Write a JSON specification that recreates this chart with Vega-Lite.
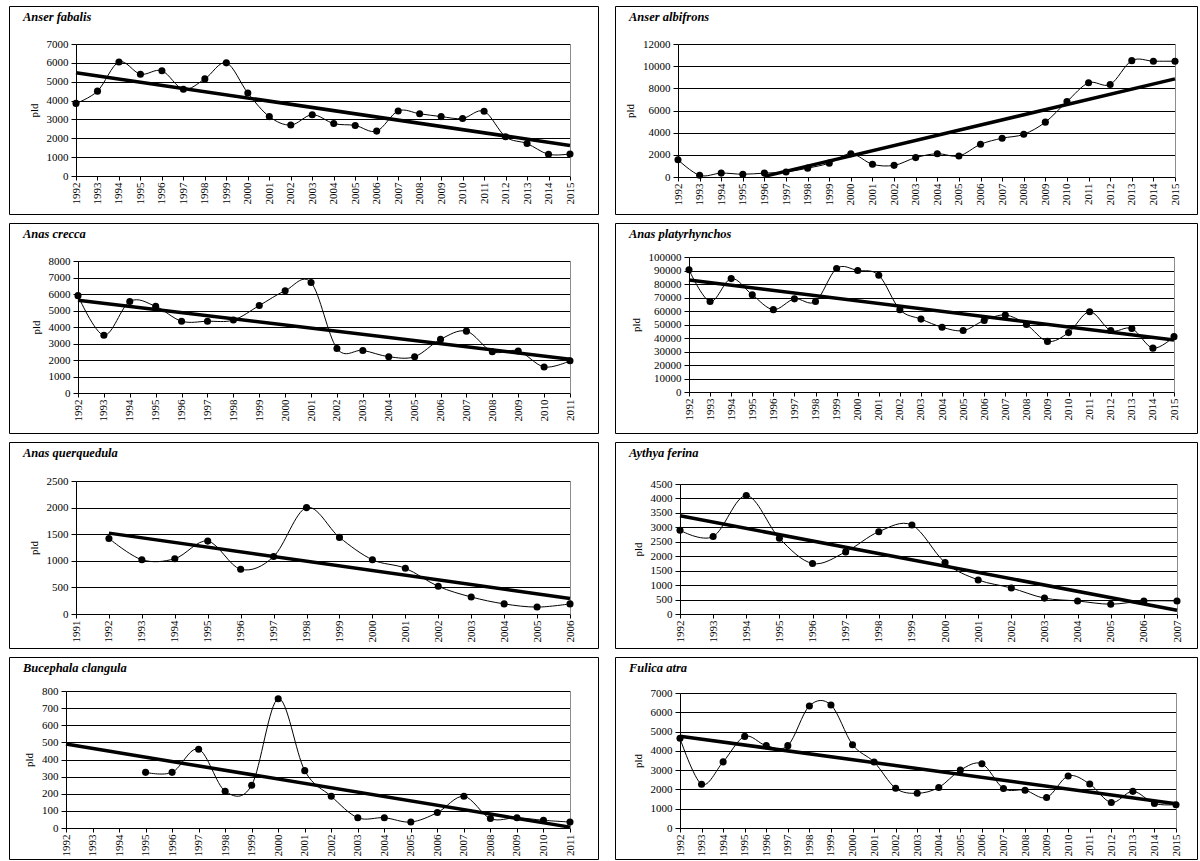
{
  "$schema": "https://vega.github.io/schema/vega-lite/v6.json",
  "background": "white",
  "padding": {"left": 8, "top": 5, "right": 0, "bottom": 0},
  "bounds": "flush",
  "align": "each",
  "columns": 2,
  "spacing": {"row": 9, "column": 17},
  "config": {
    "font": "Liberation Serif",
    "view": {"stroke": "black", "strokeWidth": 1},
    "axis": {"labelFont": "Liberation Serif", "labelFontSize": 11, "labelColor": "black", "titleFont": "Liberation Serif", "titleFontSize": 11, "titleFontWeight": "normal", "titleColor": "black", "domainColor": "black", "tickColor": "black", "gridColor": "black", "gridOpacity": 1, "domainWidth": 1, "tickWidth": 1, "format": "d"},
    "axisX": {"labelAngle": 270, "grid": false, "tickSize": 4, "labelPadding": 2, "title": null},
    "axisY": {"grid": true, "tickSize": 5, "labelPadding": 3, "titlePadding": 7},
    "title": {"anchor": "start", "frame": "group", "offset": -17, "baseline": "middle", "dx": 14, "font": "Liberation Serif", "fontSize": 12.5, "fontStyle": "italic", "fontWeight": "bold", "color": "black"}
  },
  "datasets": {
    "counts": [
      {"sp": "Anser fabalis", "year": 1992, "pld": 3850}, {"sp": "Anser fabalis", "year": 1993, "pld": 4500}, {"sp": "Anser fabalis", "year": 1994, "pld": 6050}, {"sp": "Anser fabalis", "year": 1995, "pld": 5400}, {"sp": "Anser fabalis", "year": 1996, "pld": 5580}, {"sp": "Anser fabalis", "year": 1997, "pld": 4600}, {"sp": "Anser fabalis", "year": 1998, "pld": 5150}, {"sp": "Anser fabalis", "year": 1999, "pld": 6000}, {"sp": "Anser fabalis", "year": 2000, "pld": 4400}, {"sp": "Anser fabalis", "year": 2001, "pld": 3150}, {"sp": "Anser fabalis", "year": 2002, "pld": 2700}, {"sp": "Anser fabalis", "year": 2003, "pld": 3250}, {"sp": "Anser fabalis", "year": 2004, "pld": 2780}, {"sp": "Anser fabalis", "year": 2005, "pld": 2680}, {"sp": "Anser fabalis", "year": 2006, "pld": 2380}, {"sp": "Anser fabalis", "year": 2007, "pld": 3450}, {"sp": "Anser fabalis", "year": 2008, "pld": 3300}, {"sp": "Anser fabalis", "year": 2009, "pld": 3150}, {"sp": "Anser fabalis", "year": 2010, "pld": 3050}, {"sp": "Anser fabalis", "year": 2011, "pld": 3430}, {"sp": "Anser fabalis", "year": 2012, "pld": 2080}, {"sp": "Anser fabalis", "year": 2013, "pld": 1720}, {"sp": "Anser fabalis", "year": 2014, "pld": 1150}, {"sp": "Anser fabalis", "year": 2015, "pld": 1170},
      {"sp": "Anser albifrons", "year": 1992, "pld": 1550}, {"sp": "Anser albifrons", "year": 1993, "pld": 150}, {"sp": "Anser albifrons", "year": 1994, "pld": 350}, {"sp": "Anser albifrons", "year": 1995, "pld": 250}, {"sp": "Anser albifrons", "year": 1996, "pld": 350}, {"sp": "Anser albifrons", "year": 1997, "pld": 450}, {"sp": "Anser albifrons", "year": 1998, "pld": 800}, {"sp": "Anser albifrons", "year": 1999, "pld": 1250}, {"sp": "Anser albifrons", "year": 2000, "pld": 2100}, {"sp": "Anser albifrons", "year": 2001, "pld": 1150}, {"sp": "Anser albifrons", "year": 2002, "pld": 1050}, {"sp": "Anser albifrons", "year": 2003, "pld": 1750}, {"sp": "Anser albifrons", "year": 2004, "pld": 2100}, {"sp": "Anser albifrons", "year": 2005, "pld": 1900}, {"sp": "Anser albifrons", "year": 2006, "pld": 2950}, {"sp": "Anser albifrons", "year": 2007, "pld": 3500}, {"sp": "Anser albifrons", "year": 2008, "pld": 3850}, {"sp": "Anser albifrons", "year": 2009, "pld": 4950}, {"sp": "Anser albifrons", "year": 2010, "pld": 6800}, {"sp": "Anser albifrons", "year": 2011, "pld": 8500}, {"sp": "Anser albifrons", "year": 2012, "pld": 8350}, {"sp": "Anser albifrons", "year": 2013, "pld": 10500}, {"sp": "Anser albifrons", "year": 2014, "pld": 10450}, {"sp": "Anser albifrons", "year": 2015, "pld": 10450},
      {"sp": "Anas crecca", "year": 1992, "pld": 5900}, {"sp": "Anas crecca", "year": 1993, "pld": 3500}, {"sp": "Anas crecca", "year": 1994, "pld": 5550}, {"sp": "Anas crecca", "year": 1995, "pld": 5250}, {"sp": "Anas crecca", "year": 1996, "pld": 4350}, {"sp": "Anas crecca", "year": 1997, "pld": 4350}, {"sp": "Anas crecca", "year": 1998, "pld": 4420}, {"sp": "Anas crecca", "year": 1999, "pld": 5300}, {"sp": "Anas crecca", "year": 2000, "pld": 6200}, {"sp": "Anas crecca", "year": 2001, "pld": 6700}, {"sp": "Anas crecca", "year": 2002, "pld": 2700}, {"sp": "Anas crecca", "year": 2003, "pld": 2580}, {"sp": "Anas crecca", "year": 2004, "pld": 2200}, {"sp": "Anas crecca", "year": 2005, "pld": 2200}, {"sp": "Anas crecca", "year": 2006, "pld": 3250}, {"sp": "Anas crecca", "year": 2007, "pld": 3750}, {"sp": "Anas crecca", "year": 2008, "pld": 2500}, {"sp": "Anas crecca", "year": 2009, "pld": 2550}, {"sp": "Anas crecca", "year": 2010, "pld": 1580}, {"sp": "Anas crecca", "year": 2011, "pld": 1950},
      {"sp": "Anas platyrhynchos", "year": 1992, "pld": 90500}, {"sp": "Anas platyrhynchos", "year": 1993, "pld": 67000}, {"sp": "Anas platyrhynchos", "year": 1994, "pld": 84000}, {"sp": "Anas platyrhynchos", "year": 1995, "pld": 72000}, {"sp": "Anas platyrhynchos", "year": 1996, "pld": 61000}, {"sp": "Anas platyrhynchos", "year": 1997, "pld": 69000}, {"sp": "Anas platyrhynchos", "year": 1998, "pld": 67000}, {"sp": "Anas platyrhynchos", "year": 1999, "pld": 91500}, {"sp": "Anas platyrhynchos", "year": 2000, "pld": 90000}, {"sp": "Anas platyrhynchos", "year": 2001, "pld": 86500}, {"sp": "Anas platyrhynchos", "year": 2002, "pld": 61000}, {"sp": "Anas platyrhynchos", "year": 2003, "pld": 54000}, {"sp": "Anas platyrhynchos", "year": 2004, "pld": 48000}, {"sp": "Anas platyrhynchos", "year": 2005, "pld": 45500}, {"sp": "Anas platyrhynchos", "year": 2006, "pld": 53000}, {"sp": "Anas platyrhynchos", "year": 2007, "pld": 57000}, {"sp": "Anas platyrhynchos", "year": 2008, "pld": 50000}, {"sp": "Anas platyrhynchos", "year": 2009, "pld": 37500}, {"sp": "Anas platyrhynchos", "year": 2010, "pld": 44000}, {"sp": "Anas platyrhynchos", "year": 2011, "pld": 59500}, {"sp": "Anas platyrhynchos", "year": 2012, "pld": 45500}, {"sp": "Anas platyrhynchos", "year": 2013, "pld": 47000}, {"sp": "Anas platyrhynchos", "year": 2014, "pld": 32500}, {"sp": "Anas platyrhynchos", "year": 2015, "pld": 41000},
      {"sp": "Anas querquedula", "year": 1992, "pld": 1420}, {"sp": "Anas querquedula", "year": 1993, "pld": 1020}, {"sp": "Anas querquedula", "year": 1994, "pld": 1040}, {"sp": "Anas querquedula", "year": 1995, "pld": 1370}, {"sp": "Anas querquedula", "year": 1996, "pld": 840}, {"sp": "Anas querquedula", "year": 1997, "pld": 1080}, {"sp": "Anas querquedula", "year": 1998, "pld": 2000}, {"sp": "Anas querquedula", "year": 1999, "pld": 1440}, {"sp": "Anas querquedula", "year": 2000, "pld": 1020}, {"sp": "Anas querquedula", "year": 2001, "pld": 860}, {"sp": "Anas querquedula", "year": 2002, "pld": 520}, {"sp": "Anas querquedula", "year": 2003, "pld": 320}, {"sp": "Anas querquedula", "year": 2004, "pld": 190}, {"sp": "Anas querquedula", "year": 2005, "pld": 130}, {"sp": "Anas querquedula", "year": 2006, "pld": 190},
      {"sp": "Aythya ferina", "year": 1992, "pld": 2900}, {"sp": "Aythya ferina", "year": 1993, "pld": 2680}, {"sp": "Aythya ferina", "year": 1994, "pld": 4100}, {"sp": "Aythya ferina", "year": 1995, "pld": 2620}, {"sp": "Aythya ferina", "year": 1996, "pld": 1750}, {"sp": "Aythya ferina", "year": 1997, "pld": 2150}, {"sp": "Aythya ferina", "year": 1998, "pld": 2850}, {"sp": "Aythya ferina", "year": 1999, "pld": 3080}, {"sp": "Aythya ferina", "year": 2000, "pld": 1780}, {"sp": "Aythya ferina", "year": 2001, "pld": 1180}, {"sp": "Aythya ferina", "year": 2002, "pld": 900}, {"sp": "Aythya ferina", "year": 2003, "pld": 550}, {"sp": "Aythya ferina", "year": 2004, "pld": 450}, {"sp": "Aythya ferina", "year": 2005, "pld": 340}, {"sp": "Aythya ferina", "year": 2006, "pld": 450}, {"sp": "Aythya ferina", "year": 2007, "pld": 450},
      {"sp": "Bucephala clangula", "year": 1995, "pld": 325}, {"sp": "Bucephala clangula", "year": 1996, "pld": 325}, {"sp": "Bucephala clangula", "year": 1997, "pld": 460}, {"sp": "Bucephala clangula", "year": 1998, "pld": 215}, {"sp": "Bucephala clangula", "year": 1999, "pld": 250}, {"sp": "Bucephala clangula", "year": 2000, "pld": 755}, {"sp": "Bucephala clangula", "year": 2001, "pld": 335}, {"sp": "Bucephala clangula", "year": 2002, "pld": 185}, {"sp": "Bucephala clangula", "year": 2003, "pld": 60}, {"sp": "Bucephala clangula", "year": 2004, "pld": 60}, {"sp": "Bucephala clangula", "year": 2005, "pld": 35}, {"sp": "Bucephala clangula", "year": 2006, "pld": 90}, {"sp": "Bucephala clangula", "year": 2007, "pld": 185}, {"sp": "Bucephala clangula", "year": 2008, "pld": 55}, {"sp": "Bucephala clangula", "year": 2009, "pld": 60}, {"sp": "Bucephala clangula", "year": 2010, "pld": 45}, {"sp": "Bucephala clangula", "year": 2011, "pld": 35},
      {"sp": "Fulica atra", "year": 1992, "pld": 4650}, {"sp": "Fulica atra", "year": 1993, "pld": 2270}, {"sp": "Fulica atra", "year": 1994, "pld": 3430}, {"sp": "Fulica atra", "year": 1995, "pld": 4750}, {"sp": "Fulica atra", "year": 1996, "pld": 4270}, {"sp": "Fulica atra", "year": 1997, "pld": 4270}, {"sp": "Fulica atra", "year": 1998, "pld": 6330}, {"sp": "Fulica atra", "year": 1999, "pld": 6380}, {"sp": "Fulica atra", "year": 2000, "pld": 4320}, {"sp": "Fulica atra", "year": 2001, "pld": 3420}, {"sp": "Fulica atra", "year": 2002, "pld": 2060}, {"sp": "Fulica atra", "year": 2003, "pld": 1800}, {"sp": "Fulica atra", "year": 2004, "pld": 2100}, {"sp": "Fulica atra", "year": 2005, "pld": 3000}, {"sp": "Fulica atra", "year": 2006, "pld": 3330}, {"sp": "Fulica atra", "year": 2007, "pld": 2050}, {"sp": "Fulica atra", "year": 2008, "pld": 1960}, {"sp": "Fulica atra", "year": 2009, "pld": 1580}, {"sp": "Fulica atra", "year": 2010, "pld": 2700}, {"sp": "Fulica atra", "year": 2011, "pld": 2280}, {"sp": "Fulica atra", "year": 2012, "pld": 1320}, {"sp": "Fulica atra", "year": 2013, "pld": 1900}, {"sp": "Fulica atra", "year": 2014, "pld": 1270}, {"sp": "Fulica atra", "year": 2015, "pld": 1210}
    ],
    "trend": [
      {"sp": "Anser fabalis", "year": 1992, "pld": 5480}, {"sp": "Anser fabalis", "year": 2015, "pld": 1620},
      {"sp": "Anser albifrons", "year": 1996, "pld": 60}, {"sp": "Anser albifrons", "year": 2015, "pld": 8850},
      {"sp": "Anas crecca", "year": 1992, "pld": 5620}, {"sp": "Anas crecca", "year": 2011, "pld": 2050},
      {"sp": "Anas platyrhynchos", "year": 1992, "pld": 83000}, {"sp": "Anas platyrhynchos", "year": 2015, "pld": 38500},
      {"sp": "Anas querquedula", "year": 1992, "pld": 1520}, {"sp": "Anas querquedula", "year": 2006, "pld": 290},
      {"sp": "Aythya ferina", "year": 1992, "pld": 3400}, {"sp": "Aythya ferina", "year": 2007, "pld": 130},
      {"sp": "Bucephala clangula", "year": 1992, "pld": 490}, {"sp": "Bucephala clangula", "year": 2011, "pld": 5},
      {"sp": "Fulica atra", "year": 1992, "pld": 4760}, {"sp": "Fulica atra", "year": 2015, "pld": 1260}
    ]
  },
  "concat": [
      {"width": 589, "height": 208, "title": {"text": "Anser fabalis"}, "resolve": {"axis": {"y": "independent"}},
       "layer": [
        {"data": {"name": "counts"}, "transform": [{"filter": "datum.sp === 'Anser fabalis'"}], "mark": {"type": "line", "interpolate": "cardinal", "color": "black", "strokeWidth": 1},
         "encoding": {"x": {"field": "year", "type": "quantitative", "scale": {"domain": [1992, 2015], "range": [67, 561], "nice": false, "zero": false}, "axis": {"values": [1992,1993,1994,1995,1996,1997,1998,1999,2000,2001,2002,2003,2004,2005,2006,2007,2008,2009,2010,2011,2012,2013,2014,2015], "offset": -38, "labelOverlap": false, "labelFlush": false, "labelFont": "Liberation Serif"}},
                      "y": {"field": "pld", "type": "quantitative", "scale": {"domain": [0, 7000], "range": [170, 38], "nice": false}, "axis": {"values": [0,1000,2000,3000,4000,5000,6000,7000], "offset": -67, "title": "pld", "labelOverlap": false, "labelFont": "Liberation Serif", "titleFont": "Liberation Serif"}}}},
        {"data": {"name": "counts"}, "transform": [{"filter": "datum.sp === 'Anser fabalis'"}], "mark": {"type": "circle", "size": 50, "color": "black", "opacity": 1},
         "encoding": {"x": {"field": "year", "type": "quantitative", "axis": {"values": [1992,1993,1994,1995,1996,1997,1998,1999,2000,2001,2002,2003,2004,2005,2006,2007,2008,2009,2010,2011,2012,2013,2014,2015], "offset": -38, "labelOverlap": false, "labelFlush": false, "labelFont": "Liberation Serif"}}, "y": {"field": "pld", "type": "quantitative", "axis": null}}},
        {"data": {"name": "trend"}, "transform": [{"filter": "datum.sp === 'Anser fabalis'"}], "mark": {"type": "line", "color": "black", "strokeWidth": 3.5},
         "encoding": {"x": {"field": "year", "type": "quantitative", "axis": {"values": [1992,1993,1994,1995,1996,1997,1998,1999,2000,2001,2002,2003,2004,2005,2006,2007,2008,2009,2010,2011,2012,2013,2014,2015], "offset": -38, "labelOverlap": false, "labelFlush": false, "labelFont": "Liberation Serif"}}, "y": {"field": "pld", "type": "quantitative", "axis": {"orient": "right", "offset": -28, "labels": false, "ticks": false, "grid": false, "title": null, "domainColor": "#8c8c8c"}}}}
       ]},
      {"width": 582, "height": 208, "title": {"text": "Anser albifrons"}, "resolve": {"axis": {"y": "independent"}},
       "layer": [
        {"data": {"name": "counts"}, "transform": [{"filter": "datum.sp === 'Anser albifrons'"}], "mark": {"type": "line", "interpolate": "cardinal", "color": "black", "strokeWidth": 1},
         "encoding": {"x": {"field": "year", "type": "quantitative", "scale": {"domain": [1992, 2015], "range": [63, 560], "nice": false, "zero": false}, "axis": {"values": [1992,1993,1994,1995,1996,1997,1998,1999,2000,2001,2002,2003,2004,2005,2006,2007,2008,2009,2010,2011,2012,2013,2014,2015], "offset": -37, "labelOverlap": false, "labelFlush": false, "labelFont": "Liberation Serif"}},
                      "y": {"field": "pld", "type": "quantitative", "scale": {"domain": [0, 12000], "range": [171, 38], "nice": false}, "axis": {"values": [0,2000,4000,6000,8000,10000,12000], "offset": -63, "title": "pld", "labelOverlap": false, "labelFont": "Liberation Serif", "titleFont": "Liberation Serif"}}}},
        {"data": {"name": "counts"}, "transform": [{"filter": "datum.sp === 'Anser albifrons'"}], "mark": {"type": "circle", "size": 50, "color": "black", "opacity": 1},
         "encoding": {"x": {"field": "year", "type": "quantitative", "axis": {"values": [1992,1993,1994,1995,1996,1997,1998,1999,2000,2001,2002,2003,2004,2005,2006,2007,2008,2009,2010,2011,2012,2013,2014,2015], "offset": -37, "labelOverlap": false, "labelFlush": false, "labelFont": "Liberation Serif"}}, "y": {"field": "pld", "type": "quantitative", "axis": null}}},
        {"data": {"name": "trend"}, "transform": [{"filter": "datum.sp === 'Anser albifrons'"}], "mark": {"type": "line", "color": "black", "strokeWidth": 3.5},
         "encoding": {"x": {"field": "year", "type": "quantitative", "axis": {"values": [1992,1993,1994,1995,1996,1997,1998,1999,2000,2001,2002,2003,2004,2005,2006,2007,2008,2009,2010,2011,2012,2013,2014,2015], "offset": -37, "labelOverlap": false, "labelFlush": false, "labelFont": "Liberation Serif"}}, "y": {"field": "pld", "type": "quantitative", "axis": {"orient": "right", "offset": -22, "labels": false, "ticks": false, "grid": false, "title": null, "domainColor": "#8c8c8c"}}}}
       ]},
      {"width": 589, "height": 210, "title": {"text": "Anas crecca"}, "resolve": {"axis": {"y": "independent"}},
       "layer": [
        {"data": {"name": "counts"}, "transform": [{"filter": "datum.sp === 'Anas crecca'"}], "mark": {"type": "line", "interpolate": "cardinal", "color": "black", "strokeWidth": 1},
         "encoding": {"x": {"field": "year", "type": "quantitative", "scale": {"domain": [1992, 2011], "range": [69, 561], "nice": false, "zero": false}, "axis": {"values": [1992,1993,1994,1995,1996,1997,1998,1999,2000,2001,2002,2003,2004,2005,2006,2007,2008,2009,2010,2011], "offset": -40, "labelOverlap": false, "labelFlush": false, "labelFont": "Liberation Serif"}},
                      "y": {"field": "pld", "type": "quantitative", "scale": {"domain": [0, 8000], "range": [170, 38], "nice": false}, "axis": {"values": [0,1000,2000,3000,4000,5000,6000,7000,8000], "offset": -69, "title": "pld", "labelOverlap": false, "labelFont": "Liberation Serif", "titleFont": "Liberation Serif"}}}},
        {"data": {"name": "counts"}, "transform": [{"filter": "datum.sp === 'Anas crecca'"}], "mark": {"type": "circle", "size": 50, "color": "black", "opacity": 1},
         "encoding": {"x": {"field": "year", "type": "quantitative", "axis": {"values": [1992,1993,1994,1995,1996,1997,1998,1999,2000,2001,2002,2003,2004,2005,2006,2007,2008,2009,2010,2011], "offset": -40, "labelOverlap": false, "labelFlush": false, "labelFont": "Liberation Serif"}}, "y": {"field": "pld", "type": "quantitative", "axis": null}}},
        {"data": {"name": "trend"}, "transform": [{"filter": "datum.sp === 'Anas crecca'"}], "mark": {"type": "line", "color": "black", "strokeWidth": 3.5},
         "encoding": {"x": {"field": "year", "type": "quantitative", "axis": {"values": [1992,1993,1994,1995,1996,1997,1998,1999,2000,2001,2002,2003,2004,2005,2006,2007,2008,2009,2010,2011], "offset": -40, "labelOverlap": false, "labelFlush": false, "labelFont": "Liberation Serif"}}, "y": {"field": "pld", "type": "quantitative", "axis": {"orient": "right", "offset": -28, "labels": false, "ticks": false, "grid": false, "title": null, "domainColor": "#8c8c8c"}}}}
       ]},
      {"width": 582, "height": 210, "title": {"text": "Anas platyrhynchos"}, "resolve": {"axis": {"y": "independent"}},
       "layer": [
        {"data": {"name": "counts"}, "transform": [{"filter": "datum.sp === 'Anas platyrhynchos'"}], "mark": {"type": "line", "interpolate": "cardinal", "color": "black", "strokeWidth": 1},
         "encoding": {"x": {"field": "year", "type": "quantitative", "scale": {"domain": [1992, 2015], "range": [74, 559], "nice": false, "zero": false}, "axis": {"values": [1992,1993,1994,1995,1996,1997,1998,1999,2000,2001,2002,2003,2004,2005,2006,2007,2008,2009,2010,2011,2012,2013,2014,2015], "offset": -41, "labelOverlap": false, "labelFlush": false, "labelFont": "Liberation Serif"}},
                      "y": {"field": "pld", "type": "quantitative", "scale": {"domain": [0, 100000], "range": [169, 34], "nice": false}, "axis": {"values": [0,10000,20000,30000,40000,50000,60000,70000,80000,90000,100000], "offset": -74, "title": "pld", "labelOverlap": false, "labelFont": "Liberation Serif", "titleFont": "Liberation Serif"}}}},
        {"data": {"name": "counts"}, "transform": [{"filter": "datum.sp === 'Anas platyrhynchos'"}], "mark": {"type": "circle", "size": 50, "color": "black", "opacity": 1},
         "encoding": {"x": {"field": "year", "type": "quantitative", "axis": {"values": [1992,1993,1994,1995,1996,1997,1998,1999,2000,2001,2002,2003,2004,2005,2006,2007,2008,2009,2010,2011,2012,2013,2014,2015], "offset": -41, "labelOverlap": false, "labelFlush": false, "labelFont": "Liberation Serif"}}, "y": {"field": "pld", "type": "quantitative", "axis": null}}},
        {"data": {"name": "trend"}, "transform": [{"filter": "datum.sp === 'Anas platyrhynchos'"}], "mark": {"type": "line", "color": "black", "strokeWidth": 3.5},
         "encoding": {"x": {"field": "year", "type": "quantitative", "axis": {"values": [1992,1993,1994,1995,1996,1997,1998,1999,2000,2001,2002,2003,2004,2005,2006,2007,2008,2009,2010,2011,2012,2013,2014,2015], "offset": -41, "labelOverlap": false, "labelFlush": false, "labelFont": "Liberation Serif"}}, "y": {"field": "pld", "type": "quantitative", "axis": {"orient": "right", "offset": -23, "labels": false, "ticks": false, "grid": false, "title": null, "domainColor": "#8c8c8c"}}}}
       ]},
      {"width": 589, "height": 206, "title": {"text": "Anas querquedula"}, "resolve": {"axis": {"y": "independent"}},
       "layer": [
        {"data": {"name": "counts"}, "transform": [{"filter": "datum.sp === 'Anas querquedula'"}], "mark": {"type": "line", "interpolate": "cardinal", "color": "black", "strokeWidth": 1},
         "encoding": {"x": {"field": "year", "type": "quantitative", "scale": {"domain": [1991, 2006], "range": [67, 561], "nice": false, "zero": false}, "axis": {"values": [1991,1992,1993,1994,1995,1996,1997,1998,1999,2000,2001,2002,2003,2004,2005,2006], "offset": -34, "labelOverlap": false, "labelFlush": false, "labelFont": "Liberation Serif"}},
                      "y": {"field": "pld", "type": "quantitative", "scale": {"domain": [0, 2500], "range": [172, 39], "nice": false}, "axis": {"values": [0,500,1000,1500,2000,2500], "offset": -67, "title": "pld", "labelOverlap": false, "labelFont": "Liberation Serif", "titleFont": "Liberation Serif"}}}},
        {"data": {"name": "counts"}, "transform": [{"filter": "datum.sp === 'Anas querquedula'"}], "mark": {"type": "circle", "size": 50, "color": "black", "opacity": 1},
         "encoding": {"x": {"field": "year", "type": "quantitative", "axis": {"values": [1991,1992,1993,1994,1995,1996,1997,1998,1999,2000,2001,2002,2003,2004,2005,2006], "offset": -34, "labelOverlap": false, "labelFlush": false, "labelFont": "Liberation Serif"}}, "y": {"field": "pld", "type": "quantitative", "axis": null}}},
        {"data": {"name": "trend"}, "transform": [{"filter": "datum.sp === 'Anas querquedula'"}], "mark": {"type": "line", "color": "black", "strokeWidth": 3.5},
         "encoding": {"x": {"field": "year", "type": "quantitative", "axis": {"values": [1991,1992,1993,1994,1995,1996,1997,1998,1999,2000,2001,2002,2003,2004,2005,2006], "offset": -34, "labelOverlap": false, "labelFlush": false, "labelFont": "Liberation Serif"}}, "y": {"field": "pld", "type": "quantitative", "axis": {"orient": "right", "offset": -28, "labels": false, "ticks": false, "grid": false, "title": null, "domainColor": "#8c8c8c"}}}}
       ]},
      {"width": 582, "height": 206, "title": {"text": "Aythya ferina"}, "resolve": {"axis": {"y": "independent"}},
       "layer": [
        {"data": {"name": "counts"}, "transform": [{"filter": "datum.sp === 'Aythya ferina'"}], "mark": {"type": "line", "interpolate": "cardinal", "color": "black", "strokeWidth": 1},
         "encoding": {"x": {"field": "year", "type": "quantitative", "scale": {"domain": [1992, 2007], "range": [65, 562], "nice": false, "zero": false}, "axis": {"values": [1992,1993,1994,1995,1996,1997,1998,1999,2000,2001,2002,2003,2004,2005,2006,2007], "offset": -34, "labelOverlap": false, "labelFlush": false, "labelFont": "Liberation Serif"}},
                      "y": {"field": "pld", "type": "quantitative", "scale": {"domain": [0, 4500], "range": [172, 42], "nice": false}, "axis": {"values": [0,500,1000,1500,2000,2500,3000,3500,4000,4500], "offset": -65, "title": "pld", "labelOverlap": false, "labelFont": "Liberation Serif", "titleFont": "Liberation Serif"}}}},
        {"data": {"name": "counts"}, "transform": [{"filter": "datum.sp === 'Aythya ferina'"}], "mark": {"type": "circle", "size": 50, "color": "black", "opacity": 1},
         "encoding": {"x": {"field": "year", "type": "quantitative", "axis": {"values": [1992,1993,1994,1995,1996,1997,1998,1999,2000,2001,2002,2003,2004,2005,2006,2007], "offset": -34, "labelOverlap": false, "labelFlush": false, "labelFont": "Liberation Serif"}}, "y": {"field": "pld", "type": "quantitative", "axis": null}}},
        {"data": {"name": "trend"}, "transform": [{"filter": "datum.sp === 'Aythya ferina'"}], "mark": {"type": "line", "color": "black", "strokeWidth": 3.5},
         "encoding": {"x": {"field": "year", "type": "quantitative", "axis": {"values": [1992,1993,1994,1995,1996,1997,1998,1999,2000,2001,2002,2003,2004,2005,2006,2007], "offset": -34, "labelOverlap": false, "labelFlush": false, "labelFont": "Liberation Serif"}}, "y": {"field": "pld", "type": "quantitative", "axis": {"orient": "right", "offset": -20, "labels": false, "ticks": false, "grid": false, "title": null, "domainColor": "#8c8c8c"}}}}
       ]},
      {"width": 589, "height": 202, "title": {"text": "Bucephala clangula"}, "resolve": {"axis": {"y": "independent"}},
       "layer": [
        {"data": {"name": "counts"}, "transform": [{"filter": "datum.sp === 'Bucephala clangula'"}], "mark": {"type": "line", "interpolate": "cardinal", "color": "black", "strokeWidth": 1},
         "encoding": {"x": {"field": "year", "type": "quantitative", "scale": {"domain": [1992, 2011], "range": [57, 561], "nice": false, "zero": false}, "axis": {"values": [1992,1993,1994,1995,1996,1997,1998,1999,2000,2001,2002,2003,2004,2005,2006,2007,2008,2009,2010,2011], "offset": -31, "labelOverlap": false, "labelFlush": false, "labelFont": "Liberation Serif"}},
                      "y": {"field": "pld", "type": "quantitative", "scale": {"domain": [0, 800], "range": [171, 34], "nice": false}, "axis": {"values": [0,100,200,300,400,500,600,700,800], "offset": -57, "title": "pld", "labelOverlap": false, "labelFont": "Liberation Serif", "titleFont": "Liberation Serif"}}}},
        {"data": {"name": "counts"}, "transform": [{"filter": "datum.sp === 'Bucephala clangula'"}], "mark": {"type": "circle", "size": 50, "color": "black", "opacity": 1},
         "encoding": {"x": {"field": "year", "type": "quantitative", "axis": {"values": [1992,1993,1994,1995,1996,1997,1998,1999,2000,2001,2002,2003,2004,2005,2006,2007,2008,2009,2010,2011], "offset": -31, "labelOverlap": false, "labelFlush": false, "labelFont": "Liberation Serif"}}, "y": {"field": "pld", "type": "quantitative", "axis": null}}},
        {"data": {"name": "trend"}, "transform": [{"filter": "datum.sp === 'Bucephala clangula'"}], "mark": {"type": "line", "color": "black", "strokeWidth": 3.5},
         "encoding": {"x": {"field": "year", "type": "quantitative", "axis": {"values": [1992,1993,1994,1995,1996,1997,1998,1999,2000,2001,2002,2003,2004,2005,2006,2007,2008,2009,2010,2011], "offset": -31, "labelOverlap": false, "labelFlush": false, "labelFont": "Liberation Serif"}}, "y": {"field": "pld", "type": "quantitative", "axis": {"orient": "right", "offset": -28, "labels": false, "ticks": false, "grid": false, "title": null, "domainColor": "#8c8c8c"}}}}
       ]},
      {"width": 582, "height": 202, "title": {"text": "Fulica atra"}, "resolve": {"axis": {"y": "independent"}},
       "layer": [
        {"data": {"name": "counts"}, "transform": [{"filter": "datum.sp === 'Fulica atra'"}], "mark": {"type": "line", "interpolate": "cardinal", "color": "black", "strokeWidth": 1},
         "encoding": {"x": {"field": "year", "type": "quantitative", "scale": {"domain": [1992, 2015], "range": [65, 561], "nice": false, "zero": false}, "axis": {"values": [1992,1993,1994,1995,1996,1997,1998,1999,2000,2001,2002,2003,2004,2005,2006,2007,2008,2009,2010,2011,2012,2013,2014,2015], "offset": -31, "labelOverlap": false, "labelFlush": false, "labelFont": "Liberation Serif"}},
                      "y": {"field": "pld", "type": "quantitative", "scale": {"domain": [0, 7000], "range": [171, 36], "nice": false}, "axis": {"values": [0,1000,2000,3000,4000,5000,6000,7000], "offset": -65, "title": "pld", "labelOverlap": false, "labelFont": "Liberation Serif", "titleFont": "Liberation Serif"}}}},
        {"data": {"name": "counts"}, "transform": [{"filter": "datum.sp === 'Fulica atra'"}], "mark": {"type": "circle", "size": 50, "color": "black", "opacity": 1},
         "encoding": {"x": {"field": "year", "type": "quantitative", "axis": {"values": [1992,1993,1994,1995,1996,1997,1998,1999,2000,2001,2002,2003,2004,2005,2006,2007,2008,2009,2010,2011,2012,2013,2014,2015], "offset": -31, "labelOverlap": false, "labelFlush": false, "labelFont": "Liberation Serif"}}, "y": {"field": "pld", "type": "quantitative", "axis": null}}},
        {"data": {"name": "trend"}, "transform": [{"filter": "datum.sp === 'Fulica atra'"}], "mark": {"type": "line", "color": "black", "strokeWidth": 3.5},
         "encoding": {"x": {"field": "year", "type": "quantitative", "axis": {"values": [1992,1993,1994,1995,1996,1997,1998,1999,2000,2001,2002,2003,2004,2005,2006,2007,2008,2009,2010,2011,2012,2013,2014,2015], "offset": -31, "labelOverlap": false, "labelFlush": false, "labelFont": "Liberation Serif"}}, "y": {"field": "pld", "type": "quantitative", "axis": {"orient": "right", "offset": -21, "labels": false, "ticks": false, "grid": false, "title": null, "domainColor": "#8c8c8c"}}}}
       ]}
  ]
}
